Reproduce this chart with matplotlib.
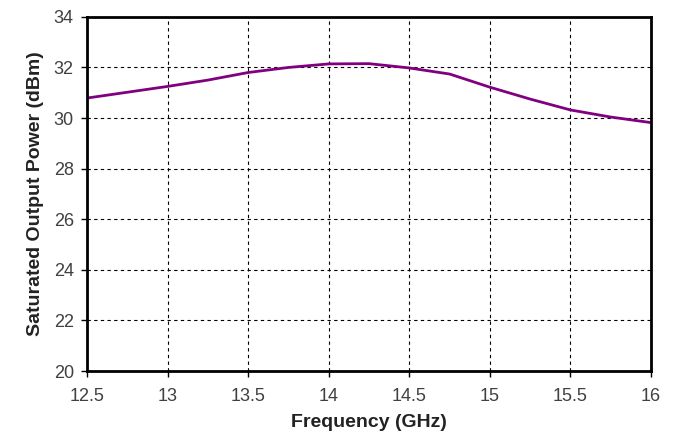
import matplotlib
matplotlib.use("Agg")
import matplotlib.pyplot as plt

# === Data ===
freq_ghz = [12.5, 12.75, 13.0, 13.25, 13.5, 13.75, 14.0, 14.25, 14.5, 14.75, 15.0, 15.25, 15.5, 15.75, 16.0]
psat_dbm = [30.79, 31.02, 31.25, 31.5, 31.8, 32.0, 32.14, 32.15, 31.98, 31.74, 31.22, 30.75, 30.32, 30.04, 29.82]

x_ticks = [12.5, 13, 13.5, 14, 14.5, 15, 15.5, 16]
x_labels = ["12.5", "13", "13.5", "14", "14.5", "15", "15.5", "16"]
y_ticks = [20, 22, 24, 26, 28, 30, 32, 34]

plt.rcParams["font.family"] = ["Liberation Sans", "DejaVu Sans"]

fig = plt.figure(figsize=(6.74, 4.32), dpi=100)
ax = fig.add_axes([0.129, 0.141, 0.837, 0.820])

ax.plot(freq_ghz, psat_dbm, color="#800080", lw=2.0)

ax.set_xlim(12.5, 16)
ax.set_ylim(20, 34)
ax.set_xticks(x_ticks)
ax.set_xticklabels(x_labels)
ax.set_yticks(y_ticks)
ax.grid(True, color="black", linestyle=(0, (3, 3)), linewidth=0.8)

for s in ax.spines.values():
    s.set_linewidth(2.0)
ax.tick_params(direction="out", length=4.5, width=1, labelsize=13, colors="black",
               labelcolor="#404040")
ax.tick_params(axis="x", pad=8)
ax.tick_params(axis="y", pad=5)

ax.set_xlabel("Frequency (GHz)", fontsize=14, fontweight="bold", color="#222222", labelpad=6)
ax.set_ylabel("Saturated Output Power (dBm)", fontsize=14, fontweight="bold", color="#222222", labelpad=7)

fig.savefig("out.png", dpi=100)
